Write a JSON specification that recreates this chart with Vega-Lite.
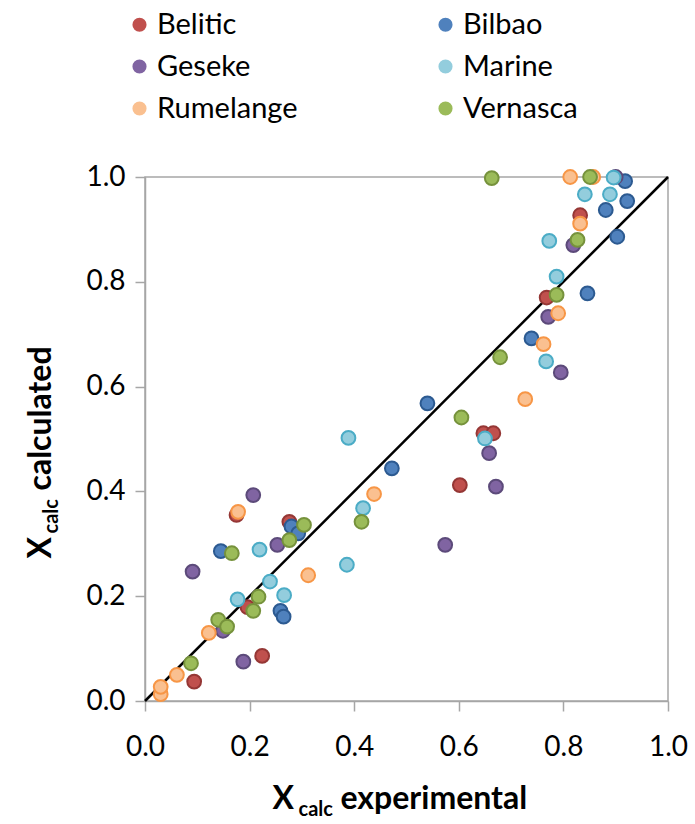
{
  "$schema": "https://vega.github.io/schema/vega-lite/v6.json",
  "width": 523,
  "height": 524,
  "autosize": "none",
  "padding": {"left": 145, "top": 177, "right": 27, "bottom": 123},
  "background": "white",
  "config": {
    "font": "Lato",
    "view": {"stroke": "#A6A6A6", "strokeWidth": 1.5}
  },
  "datasets": {
    "diag": [{"exp": 0, "calc": 0}, {"exp": 1, "calc": 1}],
    "pts": [
      {"series": "Belitic", "exp": 0.094, "calc": 0.037},
      {"series": "Belitic", "exp": 0.224, "calc": 0.086},
      {"series": "Belitic", "exp": 0.196, "calc": 0.179},
      {"series": "Belitic", "exp": 0.175, "calc": 0.355},
      {"series": "Belitic", "exp": 0.276, "calc": 0.342},
      {"series": "Belitic", "exp": 0.602, "calc": 0.412},
      {"series": "Belitic", "exp": 0.647, "calc": 0.511},
      {"series": "Belitic", "exp": 0.666, "calc": 0.511},
      {"series": "Belitic", "exp": 0.768, "calc": 0.770},
      {"series": "Belitic", "exp": 0.832, "calc": 0.927},
      {"series": "Bilbao", "exp": 0.145, "calc": 0.286},
      {"series": "Bilbao", "exp": 0.259, "calc": 0.172},
      {"series": "Bilbao", "exp": 0.265, "calc": 0.161},
      {"series": "Bilbao", "exp": 0.280, "calc": 0.333},
      {"series": "Bilbao", "exp": 0.293, "calc": 0.320},
      {"series": "Bilbao", "exp": 0.472, "calc": 0.444},
      {"series": "Bilbao", "exp": 0.540, "calc": 0.568},
      {"series": "Bilbao", "exp": 0.739, "calc": 0.692},
      {"series": "Bilbao", "exp": 0.846, "calc": 0.778},
      {"series": "Bilbao", "exp": 0.881, "calc": 0.937},
      {"series": "Bilbao", "exp": 0.903, "calc": 0.886},
      {"series": "Bilbao", "exp": 0.918, "calc": 0.992},
      {"series": "Bilbao", "exp": 0.922, "calc": 0.954},
      {"series": "Geseke", "exp": 0.091, "calc": 0.247},
      {"series": "Geseke", "exp": 0.149, "calc": 0.134},
      {"series": "Geseke", "exp": 0.188, "calc": 0.075},
      {"series": "Geseke", "exp": 0.207, "calc": 0.393},
      {"series": "Geseke", "exp": 0.253, "calc": 0.298},
      {"series": "Geseke", "exp": 0.574, "calc": 0.298},
      {"series": "Geseke", "exp": 0.658, "calc": 0.473},
      {"series": "Geseke", "exp": 0.671, "calc": 0.409},
      {"series": "Geseke", "exp": 0.771, "calc": 0.733},
      {"series": "Geseke", "exp": 0.795, "calc": 0.627},
      {"series": "Geseke", "exp": 0.819, "calc": 0.870},
      {"series": "Geseke", "exp": 0.900, "calc": 1.000},
      {"series": "Marine", "exp": 0.177, "calc": 0.194},
      {"series": "Marine", "exp": 0.219, "calc": 0.289},
      {"series": "Marine", "exp": 0.239, "calc": 0.228},
      {"series": "Marine", "exp": 0.266, "calc": 0.202},
      {"series": "Marine", "exp": 0.386, "calc": 0.260},
      {"series": "Marine", "exp": 0.389, "calc": 0.502},
      {"series": "Marine", "exp": 0.417, "calc": 0.368},
      {"series": "Marine", "exp": 0.650, "calc": 0.501},
      {"series": "Marine", "exp": 0.767, "calc": 0.648},
      {"series": "Marine", "exp": 0.773, "calc": 0.878},
      {"series": "Marine", "exp": 0.787, "calc": 0.810},
      {"series": "Marine", "exp": 0.841, "calc": 0.967},
      {"series": "Marine", "exp": 0.889, "calc": 0.967},
      {"series": "Marine", "exp": 0.896, "calc": 0.999},
      {"series": "Rumelange", "exp": 0.030, "calc": 0.013},
      {"series": "Rumelange", "exp": 0.030, "calc": 0.027},
      {"series": "Rumelange", "exp": 0.061, "calc": 0.050},
      {"series": "Rumelange", "exp": 0.122, "calc": 0.130},
      {"series": "Rumelange", "exp": 0.178, "calc": 0.361},
      {"series": "Rumelange", "exp": 0.312, "calc": 0.240},
      {"series": "Rumelange", "exp": 0.438, "calc": 0.395},
      {"series": "Rumelange", "exp": 0.727, "calc": 0.576},
      {"series": "Rumelange", "exp": 0.762, "calc": 0.681},
      {"series": "Rumelange", "exp": 0.790, "calc": 0.740},
      {"series": "Rumelange", "exp": 0.813, "calc": 1.000},
      {"series": "Rumelange", "exp": 0.832, "calc": 0.911},
      {"series": "Rumelange", "exp": 0.857, "calc": 1.000},
      {"series": "Vernasca", "exp": 0.088, "calc": 0.072},
      {"series": "Vernasca", "exp": 0.140, "calc": 0.155},
      {"series": "Vernasca", "exp": 0.157, "calc": 0.142},
      {"series": "Vernasca", "exp": 0.166, "calc": 0.282},
      {"series": "Vernasca", "exp": 0.207, "calc": 0.172},
      {"series": "Vernasca", "exp": 0.217, "calc": 0.199},
      {"series": "Vernasca", "exp": 0.276, "calc": 0.307},
      {"series": "Vernasca", "exp": 0.304, "calc": 0.336},
      {"series": "Vernasca", "exp": 0.414, "calc": 0.342},
      {"series": "Vernasca", "exp": 0.605, "calc": 0.541},
      {"series": "Vernasca", "exp": 0.663, "calc": 0.998},
      {"series": "Vernasca", "exp": 0.679, "calc": 0.656},
      {"series": "Vernasca", "exp": 0.787, "calc": 0.775},
      {"series": "Vernasca", "exp": 0.827, "calc": 0.880},
      {"series": "Vernasca", "exp": 0.851, "calc": 1.000}
    ]
  },
  "layer": [
    {
      "data": {"name": "diag"},
      "mark": {"type": "line", "color": "#000000", "strokeWidth": 2.5},
      "encoding": {
        "x": {
          "field": "exp", "type": "quantitative",
          "scale": {"domain": [0, 1], "nice": false},
          "axis": {
            "orient": "bottom", "labels": false, "ticks": false, "domain": false, "grid": false,
            "title": "calc", "titleFontSize": 20, "titleFontWeight": "bold", "titleColor": "#000000",
            "titleAlign": "left", "titleBaseline": "alphabetic", "titleAnchor": null,
            "titleX": 153, "titleY": 114
          }
        },
        "y": {
          "field": "calc", "type": "quantitative",
          "scale": {"domain": [0, 1], "nice": false},
          "axis": {
            "orient": "left", "labels": false, "ticks": false, "domain": false, "grid": false,
            "title": "calc", "titleFontSize": 20, "titleFontWeight": "bold", "titleColor": "#000000",
            "titleAngle": -90, "titleAlign": "left", "titleBaseline": "alphabetic", "titleAnchor": null,
            "titleX": -88, "titleY": 356
          }
        }
      }
    },
    {
      "data": {"name": "diag"},
      "mark": {"type": "line", "color": "#000000", "strokeWidth": 2.5, "strokeOpacity": 0},
      "encoding": {
        "x": {
          "field": "exp", "type": "quantitative",
          "scale": {"domain": [0, 1], "nice": false},
          "axis": {
            "orient": "bottom", "labels": false, "ticks": false, "domain": false, "grid": false,
            "title": "experimental", "titleFontSize": 32, "titleFontWeight": "bold", "titleColor": "#000000",
            "titleAlign": "left", "titleBaseline": "alphabetic", "titleAnchor": null,
            "titleX": 195, "titleY": 107
          }
        },
        "y": {
          "field": "calc", "type": "quantitative",
          "scale": {"domain": [0, 1], "nice": false},
          "axis": {
            "orient": "left", "labels": false, "ticks": false, "domain": false, "grid": false,
            "title": "calculated", "titleFontSize": 32, "titleFontWeight": "bold", "titleColor": "#000000",
            "titleAngle": -90, "titleAlign": "left", "titleBaseline": "alphabetic", "titleAnchor": null,
            "titleX": -95, "titleY": 313
          }
        }
      }
    },
    {
      "data": {"name": "pts"},
      "mark": {"type": "circle", "size": 190, "opacity": 1, "strokeWidth": 2},
      "encoding": {
        "x": {
          "field": "exp", "type": "quantitative",
          "scale": {"domain": [0, 1], "nice": false},
          "axis": {
            "orient": "bottom", "values": [0, 0.2, 0.4, 0.6, 0.8, 1.0], "format": ".1f",
            "grid": false, "domainColor": "#A6A6A6", "domainWidth": 1.5,
            "tickColor": "#A6A6A6", "tickWidth": 1.5, "tickSize": 10,
            "labelFontSize": 28, "labelColor": "#000000", "labelPadding": 22, "labelFlush": false,
            "title": "X", "titleFontSize": 32, "titleFontWeight": "bold", "titleColor": "#000000",
            "titleAlign": "left", "titleAnchor": null, "titleBaseline": "alphabetic", "titleX": 127, "titleY": 107
          }
        },
        "y": {
          "field": "calc", "type": "quantitative",
          "scale": {"domain": [0, 1], "nice": false},
          "axis": {
            "orient": "left", "values": [0, 0.2, 0.4, 0.6, 0.8, 1.0], "format": ".1f",
            "grid": false, "domainColor": "#A6A6A6", "domainWidth": 1.5,
            "tickColor": "#A6A6A6", "tickWidth": 1.5, "tickSize": 10,
            "labelFontSize": 28, "labelColor": "#000000", "labelPadding": 10, "labelFlush": false,
            "title": "X", "titleFontSize": 32, "titleFontWeight": "bold", "titleColor": "#000000",
            "titleAngle": -90, "titleAlign": "left", "titleAnchor": null, "titleBaseline": "alphabetic", "titleX": -95, "titleY": 381
          }
        },
        "fill": {
          "field": "series", "type": "nominal",
          "scale": {
            "domain": ["Belitic", "Bilbao", "Geseke", "Marine", "Rumelange", "Vernasca"],
            "range": ["#C0504D", "#4F81BD", "#8064A2", "#93CDDD", "#FAC090", "#9BBB59"]
          },
          "legend": {
            "orient": "none", "legendX": -20, "legendY": -167, "direction": "horizontal", "columns": 2,
            "title": null, "symbolType": "circle", "symbolSize": 200, "symbolStrokeWidth": 0,
            "labelFontSize": 29, "labelColor": "#000000", "labelOffset": 3, "labelLimit": 300,
            "rowPadding": 12, "columnPadding": 133
          }
        },
        "stroke": {
          "field": "series", "type": "nominal",
          "scale": {
            "domain": ["Belitic", "Bilbao", "Geseke", "Marine", "Rumelange", "Vernasca"],
            "range": ["#953735", "#2C5A91", "#5C4A7A", "#4BACC6", "#F79646", "#76923C"]
          },
          "legend": null
        }
      }
    }
  ],
  "resolve": {"axis": {"x": "independent", "y": "independent"}}
}
